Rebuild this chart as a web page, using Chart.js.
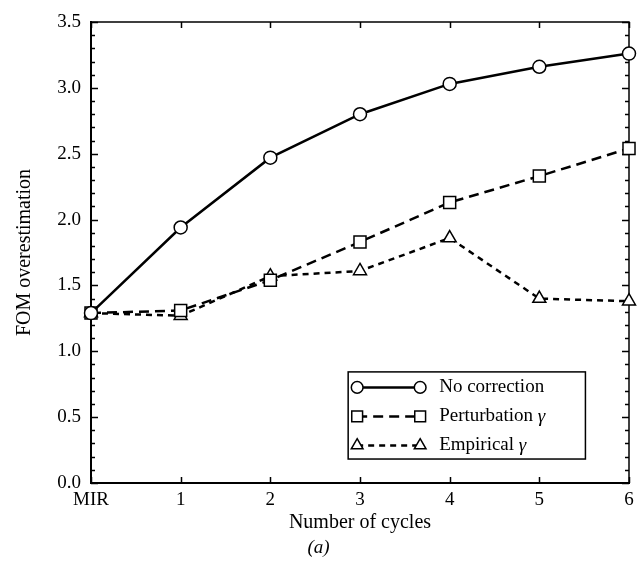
<!DOCTYPE html>
<html>
<head>
<meta charset="utf-8">
<script src="https://cdn.jsdelivr.net/npm/chart.js@4.4.1/dist/chart.umd.min.js"></script>
<style>
    html, body { margin: 0; padding: 0; background: #fff; }
    #wrap { width: 639px; height: 573px; position: relative; }
</style>
</head>
<body>
<div id="wrap"><canvas id="fomChart"></canvas></div>
<script>
// Data
const cycles = ['MIR', '1', '2', '3', '4', '5', '6'];
const noCorrection = [1.29, 1.94, 2.47, 2.80, 3.03, 3.16, 3.26];
const perturbation = [1.29, 1.31, 1.54, 1.83, 2.13, 2.33, 2.54];
const empirical = [1.29, 1.27, 1.57, 1.61, 1.86, 1.40, 1.38];
const yMin = 0, yMax = 3.5, yStep = 0.5, yMinorStep = 0.1;

const serif = '"Liberation Serif", "DejaVu Serif", serif';

// Series styling, also used by the legend box
const seriesStyles = [
    { label: 'No correction', greek: '', style: 'circle', radius: 6.5, dash: [] },
    { label: 'Perturbation ', greek: 'γ', style: 'rect', radius: 8.5, dash: [10, 6] },
    { label: 'Empirical ', greek: 'γ', style: 'triangle', radius: 7.5, dash: [6, 5] }
];

function drawMarker(ctx, style, x, y, r) {
    ctx.beginPath();
    if (style === 'circle') {
        ctx.arc(x, y, r, 0, Math.PI * 2);
    } else if (style === 'rect') {
        const h = r * Math.SQRT1_2;
        ctx.rect(x - h, y - h, 2 * h, 2 * h);
    } else {
        for (let i = 0; i < 3; i++) {
            const a = i * 2 * Math.PI / 3;
            const px = x + Math.sin(a) * r, py = y - Math.cos(a) * r;
            if (i === 0) ctx.moveTo(px, py); else ctx.lineTo(px, py);
        }
        ctx.closePath();
    }
    ctx.fill();
    ctx.stroke();
}

// Frame, inward ticks and the boxed legend
const framePlugin = {
    id: 'frame',
    beforeDatasetsDraw(chart) {
        const { ctx, chartArea: ca, scales } = chart;
        const y = scales.y, x = scales.x;
        ctx.save();
        ctx.strokeStyle = '#000';
        ctx.lineWidth = 1.5;
        ctx.strokeRect(ca.left, ca.top, ca.right - ca.left, ca.bottom - ca.top);

        // y ticks, left and right
        for (let v = yMin; v <= yMax + 1e-9; v += yMinorStep) {
            const major = Math.abs(v / yStep - Math.round(v / yStep)) < 1e-6;
            const len = major ? 7 : 4;
            const py = Math.round(y.getPixelForValue(v)) + 0.5;
            ctx.beginPath();
            ctx.moveTo(ca.left, py); ctx.lineTo(ca.left + len, py);
            ctx.moveTo(ca.right, py); ctx.lineTo(ca.right - len, py);
            ctx.stroke();
        }
        // x ticks, bottom and top
        cycles.forEach((c, i) => {
            const px = Math.round(x.getPixelForValue(i)) + 0.5;
            ctx.beginPath();
            ctx.moveTo(px, ca.bottom); ctx.lineTo(px, ca.bottom - 6);
            ctx.moveTo(px, ca.top); ctx.lineTo(px, ca.top + 6);
            ctx.stroke();
        });
        ctx.restore();
    },
    afterDraw(chart) {
        const { ctx, chartArea: ca } = chart;
        const w = ca.right - ca.left, h = ca.bottom - ca.top;
        const bx = ca.left + w * 0.478, by = ca.top + h * 0.759;
        const bw = w * 0.441, bh = h * 0.189;
        ctx.save();
        ctx.fillStyle = '#fff';
        ctx.fillRect(bx, by, bw, bh);
        ctx.strokeStyle = '#000';
        ctx.lineWidth = 1.5;
        ctx.strokeRect(bx, by, bw, bh);

        seriesStyles.forEach((s, i) => {
            const ry = by + 15.5 + i * 29;
            const x0 = bx + 9, x1 = bx + 72;
            ctx.lineWidth = 2.5;
            ctx.setLineDash(s.dash);
            ctx.beginPath();
            ctx.moveTo(x0, ry); ctx.lineTo(x1, ry);
            ctx.stroke();
            ctx.setLineDash([]);
            ctx.lineWidth = 1.5;
            ctx.fillStyle = '#fff';
            drawMarker(ctx, s.style, x0, ry, s.radius * 0.9);
            drawMarker(ctx, s.style, x1, ry, s.radius * 0.9);

            ctx.fillStyle = '#000';
            ctx.textBaseline = 'middle';
            ctx.textAlign = 'left';
            ctx.font = '19px ' + serif;
            const tx = bx + 91;
            ctx.fillText(s.label, tx, ry);
            if (s.greek) {
                const lw = ctx.measureText(s.label).width;
                ctx.font = 'italic 19px ' + serif;
                ctx.fillText(s.greek, tx + lw, ry + 1);
            }
        });
        ctx.restore();
    }
};

function makeDataset(values, idx) {
    const s = seriesStyles[idx];
    return {
        label: s.label + s.greek,
        data: values,
        borderColor: '#000',
        borderWidth: 2.5,
        borderDash: s.dash,
        pointStyle: s.style,
        pointRadius: s.radius,
        pointBorderWidth: 1.5,
        pointBackgroundColor: '#fff',
        pointBorderColor: '#000',
        tension: 0,
        fill: false,
        clip: false
    };
}

new Chart(document.getElementById('fomChart'), {
    type: 'line',
    data: {
        labels: cycles,
        datasets: [
            makeDataset(noCorrection, 0),
            makeDataset(perturbation, 1),
            makeDataset(empirical, 2)
        ]
    },
    options: {
        responsive: true,
        maintainAspectRatio: false,
        animation: false,
        layout: { padding: { top: 22, right: 2, left: 0, bottom: 0 } },
        plugins: {
            legend: { display: false },
            tooltip: { enabled: false },
            title: {
                display: true,
                position: 'bottom',
                text: '(a)',
                color: '#000',
                font: { family: serif, size: 19, style: 'italic', weight: 'normal', lineHeight: 1.2 },
                padding: { top: 0, bottom: 14 }
            }
        },
        scales: {
            x: {
                type: 'category',
                offset: false,
                grid: { display: false, drawTicks: false },
                border: { display: true, color: '#000', width: 2 },
                ticks: {
                    color: '#000',
                    padding: 6,
                    autoSkip: false,
                    maxRotation: 0,
                    font: { family: serif, size: 19 }
                },
                title: {
                    display: true,
                    text: 'Number of cycles',
                    color: '#000',
                    font: { family: serif, size: 20, lineHeight: 1.2 },
                    padding: { top: 0, bottom: 1 }
                },
                afterFit(scale) {
                    scale.height = 53.2;
                    scale.paddingLeft = 0;
                    scale.paddingRight = 0;
                }
            },
            y: {
                min: yMin,
                max: yMax,
                grid: { display: false, drawTicks: false },
                border: { display: true, color: '#000', width: 2 },
                ticks: {
                    stepSize: yStep,
                    color: '#000',
                    padding: 10,
                    font: { family: serif, size: 19 },
                    callback: v => Number(v).toFixed(1)
                },
                title: {
                    display: true,
                    text: 'FOM overestimation',
                    color: '#000',
                    font: { family: serif, size: 20, lineHeight: 1.2 },
                    padding: { top: 13, bottom: 0 }
                },
                afterFit(scale) {
                    scale.width = 91;
                    scale.paddingTop = 0;
                    scale.paddingBottom = 0;
                }
            }
        }
    },
    plugins: [framePlugin]
});
</script>
</body>
</html>
